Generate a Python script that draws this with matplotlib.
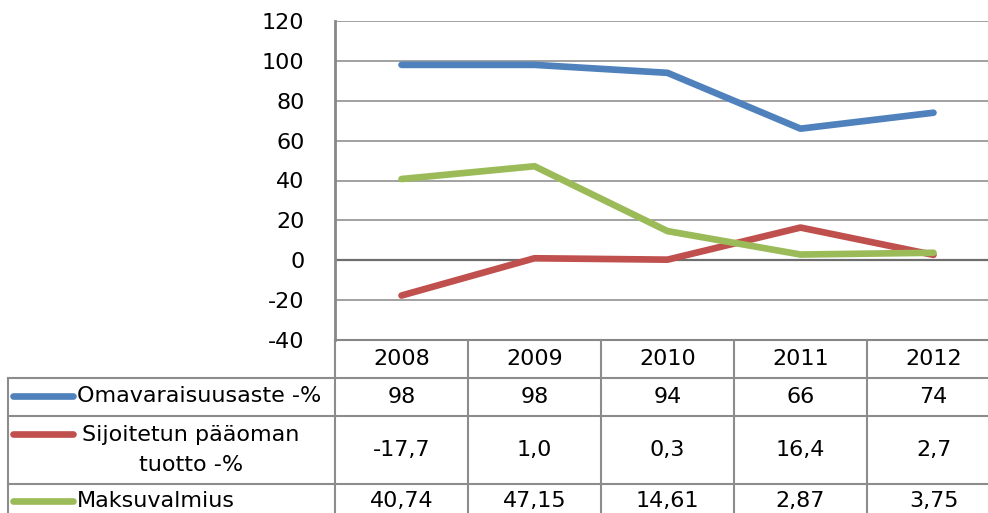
import matplotlib
matplotlib.use('Agg')
import matplotlib.pyplot as plt
from matplotlib.lines import Line2D

vuodet = ['2008', '2009', '2010', '2011', '2012']
omavaraisuus = [98, 98, 94, 66, 74]
sijoitettu = [-17.7, 1.0, 0.3, 16.4, 2.7]
maksuvalmius = [40.74, 47.15, 14.61, 2.87, 3.75]
sarjat = ['Omavaraisuusaste -%', 'Sijoitetun pääoman\ntuotto -%', 'Maksuvalmius']
y_ticks = [-40, -20, 0, 20, 40, 60, 80, 100, 120]

plt.rcParams['font.family'] = ['DejaVu Sans']
fs = 16
W, H = 988, 513
fig = plt.figure(figsize=(W / 100, H / 100), dpi=100)

def px(x, y):
    return x / W, 1 - y / H

# plot area in pixels
left, top, bottom, colw = 335, 21, 340, 133
ax = fig.add_axes([left / W, 1 - bottom / H, 5 * colw / W, (bottom - top) / H])

blue, red, green = '#4F81BD', '#C0504D', '#9BBB59'
grid_c = '#878787'
lw = 4.8
xs = range(len(vuodet))
ax.plot(xs, omavaraisuus, color=blue, lw=lw, solid_capstyle='round', zorder=3)
ax.plot(xs, sijoitettu, color=red, lw=lw, solid_capstyle='round', zorder=3)
ax.plot(xs, maksuvalmius, color=green, lw=lw, solid_capstyle='round', zorder=4)

ax.set_xlim(-0.5, 4.5)
ax.set_ylim(-40, 120)
ax.set_yticks(y_ticks)
ax.set_yticklabels([str(t) for t in y_ticks], fontsize=fs)
ax.set_xticks([])
ax.tick_params(axis='y', length=0, pad=22)
ax.grid(axis='y', color=grid_c, lw=1.1)
ax.axhline(0, color='#6e6e6e', lw=1.6, zorder=2)
for s in ['top', 'right']:
    ax.spines[s].set_visible(False)
ax.spines['left'].set_color(grid_c)
ax.spines['left'].set_linewidth(2)
ax.spines['bottom'].set_color(grid_c)
ax.spines['bottom'].set_linewidth(1.5)

# data table below the chart
rows = [(378, 416), (416, 484), (484, 540)]
tcol = '#8c8c8c'

def hline(y, x0, x1):
    fig.add_artist(Line2D([x0 / W, x1 / W], [1 - y / H, 1 - y / H], color=tcol, lw=1.5))

def vline(x, y0, y1):
    fig.add_artist(Line2D([x / W, x / W], [1 - y0 / H, 1 - y1 / H], color=tcol, lw=1.5))

for y in [378, 416, 484]:
    hline(y, 8, W)
vline(8, 378, H)
for i in range(6):
    vline(left + i * colw, bottom, H)

for i, v in enumerate(vuodet):
    fig.text(*px(left + colw * (i + 0.5), 359), v, ha='center', va='center', fontsize=fs)

fmt = [lambda v: f'{v:d}', lambda v: f'{v:.1f}'.replace('.', ','),
       lambda v: f'{v:.2f}'.replace('.', ',')]
arvot = [omavaraisuus, sijoitettu, maksuvalmius]
keys = [(blue, 396), (red, 434), (green, 501)]
for r, (y0, y1) in enumerate(rows):
    yc = (y0 + y1) / 2 if r < 2 else 501
    for i, v in enumerate(arvot[r]):
        fig.text(*px(left + colw * (i + 0.5), yc), fmt[r](v), ha='center', va='center', fontsize=fs)
    c, ky = keys[r]
    fig.add_artist(Line2D([13 / W, 73 / W], [1 - ky / H] * 2, color=c, lw=lw, solid_capstyle='round'))

fig.text(*px(77, 396), sarjat[0], ha='left', va='center', fontsize=fs)
fig.text(*px(191, 450), sarjat[1], ha='center', va='center', fontsize=fs, linespacing=1.6)
fig.text(*px(77, 501), sarjat[2], ha='left', va='center', fontsize=fs)

fig.savefig('out.png', dpi=100)
